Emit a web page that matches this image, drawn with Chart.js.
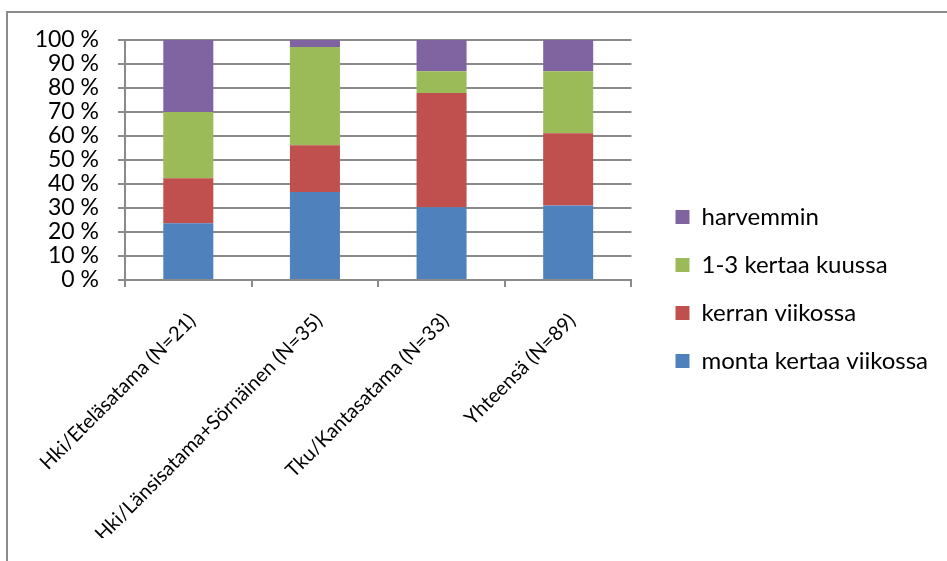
<!DOCTYPE html>
<html lang="fi">
<head>
<meta charset="utf-8">
<title>Käyntitiheys satamittain</title>
<script src="https://cdn.jsdelivr.net/npm/chart.js@4/dist/chart.umd.min.js"></script>
<style>
  html, body { margin: 0; padding: 0; background: #fff; }
  #wrap { position: relative; width: 947px; height: 561px; }
</style>
</head>
<body>
<div id="wrap"><canvas id="chart" width="947" height="561"></canvas></div>
<script>
// Categories (ports) and share of respondents per answer, in percent
const categories = [
  'Hki/Eteläsatama (N=21)',
  'Hki/Länsisatama+Sörnäinen (N=35)',
  'Tku/Kantasatama (N=33)',
  'Yhteensä (N=89)'
];
const seriesNames = ['monta kertaa viikossa', 'kerran viikossa', '1-3 kertaa kuussa', 'harvemmin'];
const montaKertaaViikossa = [23.6, 36.7, 30.3, 31.0];
const kerranViikossa      = [18.8, 19.4, 47.6, 30.1];
const kertaaKuussa        = [27.6, 41.0,  9.1, 25.9];
const harvemmin           = [30.0,  2.9, 13.0, 13.0];
const yTicks = [0, 10, 20, 30, 40, 50, 60, 70, 80, 90, 100];

const seriesValues = [montaKertaaViikossa, kerranViikossa, kertaaKuussa, harvemmin];
const seriesColors = ['#4F81BD', '#C0504D', '#9BBB59', '#8064A2'];

const FONT = 'Lato, "Liberation Sans", sans-serif';
const GRID = '#8a8a8a';

// Grey frame around the chart object (left and top edges are visible)
const framePlugin = {
  id: 'frame',
  beforeDraw(chart) {
    const ctx = chart.ctx;
    ctx.save();
    ctx.strokeStyle = '#8c8c8c';
    ctx.lineWidth = 2;
    ctx.beginPath();
    ctx.moveTo(7, chart.height + 2);
    ctx.lineTo(7, 12);
    ctx.lineTo(chart.width + 2, 12);
    ctx.stroke();
    ctx.restore();
  }
};

new Chart(document.getElementById('chart'), {
  type: 'bar',
  data: {
    labels: categories,
    datasets: seriesValues.map((vals, i) => ({
      label: seriesNames[i],
      data: vals,
      backgroundColor: seriesColors[i],
      borderWidth: 0,
      barPercentage: 0.395,
      categoryPercentage: 1.0
    }))
  },
  options: {
    responsive: false,
    animation: false,
    devicePixelRatio: 1,
    layout: { padding: { top: 40, right: 9, bottom: 23, left: 0 } },
    plugins: {
      tooltip: { enabled: false },
      legend: {
        position: 'right',
        reverse: true,
        maxWidth: 300,
        labels: {
          boxWidth: 14,
          boxHeight: 14,
          padding: 24,
          color: '#000',
          font: { family: FONT, size: 24 }
        }
      }
    },
    scales: {
      x: {
        stacked: true,
        offset: true,
        grid: { display: true, offset: true, drawOnChartArea: false, drawTicks: true, tickLength: 7, color: GRID, lineWidth: 2 },
        border: { display: true, color: GRID, width: 2 },
        ticks: {
          color: '#000',
          font: { family: FONT, size: 20 },
          minRotation: 45,
          maxRotation: 45,
          autoSkip: false,
          padding: 22,
          labelOffset: 4
        },
        afterFit(scale) { scale.height = 258; }
      },
      y: {
        stacked: true,
        min: 0,
        max: 100,
        afterBuildTicks(scale) { scale.ticks = yTicks.map(v => ({ value: v })); },
        grid: { color: GRID, lineWidth: 2, tickLength: 7, drawTicks: true },
        border: { display: true, color: GRID, width: 2 },
        ticks: {
          color: '#000',
          font: { family: FONT, size: 23 },
          padding: 19,
          autoSkip: false,
          callback: v => v + ' %'
        },
        afterFit(scale) { scale.width = 125; }
      },
      gap: {
        type: 'linear',
        position: 'right',
        display: true,
        grid: { display: false, drawTicks: false },
        border: { display: false },
        ticks: { display: false },
        afterFit(scale) { scale.width = 20; }
      }
    }
  },
  plugins: [framePlugin]
});
</script>
</body>
</html>
